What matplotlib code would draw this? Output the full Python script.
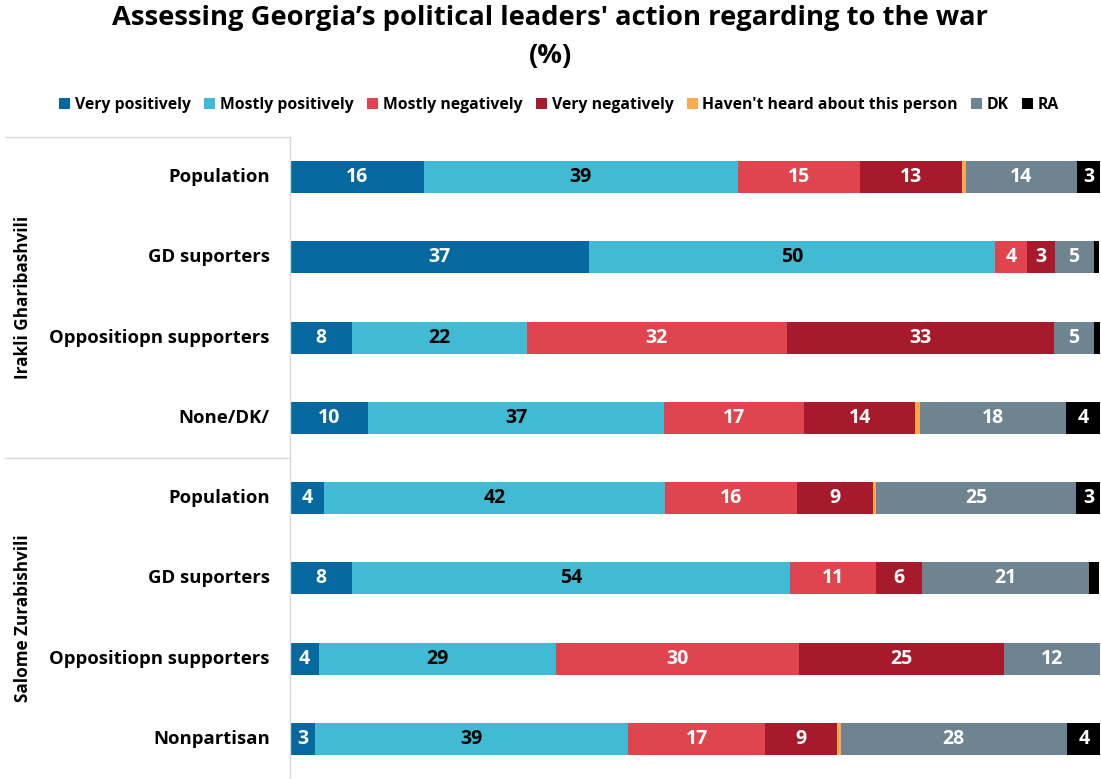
import matplotlib
matplotlib.use("Agg")
import matplotlib.pyplot as plt
from matplotlib.patches import Patch
from matplotlib.lines import Line2D

plt.rcParams['font.family'] = ['Open Sans', 'DejaVu Sans']

title = "Assessing Georgia’s political leaders' action regarding to the war\n(%)"
series = ["Very positively", "Mostly positively", "Mostly negatively", "Very negatively",
          "Haven't heard about this person", "DK", "RA"]
colors = ["#0569A0", "#41BBD3", "#DF444F", "#A71A2B", "#FBA94F", "#6E8591", "#000000"]
label_colors = ["white", "black", "white", "white", "white", "white", "white"]

groups = ["Irakli Gharibashvili", "Salome Zurabishvili"]
categories = ["Population", "GD suporters", "Oppositiopn supporters", "None/DK/",
              "Population", "GD suporters", "Oppositiopn supporters", "Nonpartisan"]

very_pos = [16.5, 36.9, 7.7, 9.6, 4.2, 7.7, 3.6, 3.1]
mostly_pos = [38.8, 50.1, 21.6, 36.6, 42.1, 54.0, 29.3, 38.6]
mostly_neg = [15.1, 4.0, 32.0, 17.3, 16.3, 10.7, 30.0, 17.0]
very_neg = [12.6, 3.4, 33.0, 13.7, 9.4, 5.6, 25.2, 8.8]
not_heard = [0.4, 0.0, 0.0, 0.6, 0.4, 0.0, 0.0, 0.5]
dk = [13.7, 4.8, 4.9, 18.0, 24.6, 20.7, 12.0, 27.9]
ra = [3.1, 0.7, 0.8, 4.3, 3.2, 1.2, 0.0, 4.2]

values = [very_pos, mostly_pos, mostly_neg, very_neg, not_heard, dk, ra]

fig = plt.figure(figsize=(11.01, 7.79), dpi=100)
ax = fig.add_axes([290/1101, 0, 810/1101, (779-137)/779])

n = len(categories)
ypos = list(range(n))
left = [0.0] * n
for s, (name, vals, col, lc) in enumerate(zip(series, values, colors, label_colors)):
    ax.barh(ypos, vals, left=left, height=0.4, color=col, edgecolor='none')
    for i, v in enumerate(vals):
        if v >= 2.5:
            ax.text(left[i] + v / 2, i, f"{round(v)}", ha='center', va='center',
                    color=lc, fontsize=14, fontweight='bold')
    left = [l + v for l, v in zip(left, vals)]

ax.set_xlim(0, 100)
ax.set_ylim(n - 0.5, -0.5)
ax.set_xticks([])
ax.set_yticks([])
for sp in ['top', 'right', 'bottom']:
    ax.spines[sp].set_visible(False)
ax.spines['left'].set_color('#D9D9D9')
ax.spines['left'].set_linewidth(1)

# category labels
for i, c in enumerate(categories):
    ax.text(-0.025, i, c, transform=ax.get_yaxis_transform(), ha='right', va='center',
            fontsize=13.3, fontweight='bold', color='black')

# group labels and separators
axh = ax.get_yaxis_transform()
x_left = (5 - 290) / 810
for yline in [-0.5, 3.5]:
    ax.add_line(Line2D([x_left, 0], [yline, yline], transform=axh, color='#D9D9D9',
                       lw=1, clip_on=False))
for g, (y0, y1) in zip(groups, [(0, 3), (4, 7)]):
    ax.text((23 - 290) / 810, (y0 + y1) / 2, g, transform=axh, rotation=90,
            ha='center', va='center', fontsize=12.3, fontweight='bold')

fig.text(0.5, 0.994, title, ha='center', va='top', fontsize=19.7, fontweight='bold',
         linespacing=1.6)

handles = [Patch(facecolor=c, edgecolor='none') for c in colors]
fig.legend(handles, series, loc='center', bbox_to_anchor=(0.508, 1 - 105/779), ncol=7,
           frameon=False, handlelength=0.7, handleheight=0.7, handletextpad=0.3,
           columnspacing=0.85, prop={'size': 11.3, 'weight': 'bold'})

fig.savefig("out.png", dpi=100)
